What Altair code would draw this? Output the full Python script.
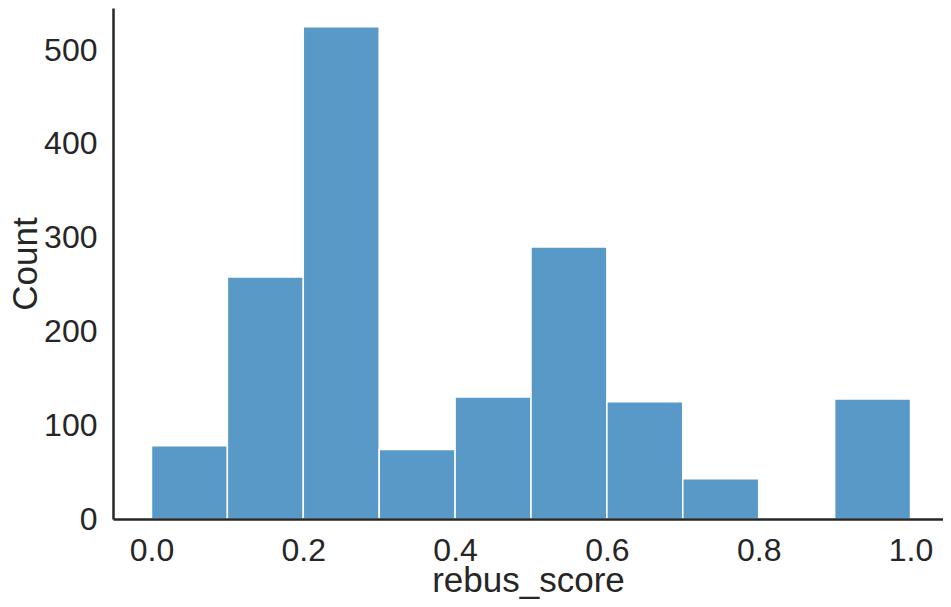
import altair as alt
import pandas as pd

bin_start = [0.0, 0.1, 0.2, 0.3, 0.4, 0.5, 0.6, 0.7, 0.8, 0.9]
bin_end = [0.1, 0.2, 0.3, 0.4, 0.5, 0.6, 0.7, 0.8, 0.9, 1.0]
counts = [78, 258, 525, 74, 130, 290, 125, 43, 0, 128]
x_ticks = [0.0, 0.2, 0.4, 0.6, 0.8, 1.0]
y_ticks = [0, 100, 200, 300, 400, 500]

df = pd.DataFrame({"start": bin_start, "end": bin_end, "count": counts})

FONT = "Liberation Sans"
DARK = "#262626"

chart = (
    alt.Chart(df)
    .mark_rect(color="#5899c8", stroke="white", strokeWidth=1.5)
    .encode(
        x=alt.X(
            "start:Q",
            scale=alt.Scale(domain=[-0.0507, 1.0428], nice=False, zero=False),
            axis=alt.Axis(
                title="rebus_score",
                values=x_ticks,
                format=".1f",
                ticks=False,
                grid=False,
                labelPadding=16,
                titleBaseline="alphabetic",
                titleY=72,
                labelFontSize=32,
                titleFontSize=35,
                domainWidth=2.5,
                zindex=1,
            ),
        ),
        x2="end:Q",
        y=alt.Y(
            "count:Q",
            scale=alt.Scale(domain=[0, 545], nice=False),
            axis=alt.Axis(
                title="Count",
                values=y_ticks,
                ticks=False,
                grid=False,
                labelPadding=16,
                titlePadding=0,
                labelFontSize=32,
                titleFontSize=35,
                domainWidth=2.5,
                zindex=1,
            ),
        ),
        y2=alt.datum(0),
    )
    .properties(
        width=830,
        height=511,
        autosize=alt.AutoSizeParams(type="none"),
        padding={"left": 105, "top": 0, "right": 0, "bottom": 80},
    )
    .configure_view(stroke=None)
    .configure_axis(
        labelFont=FONT,
        titleFont=FONT,
        labelColor=DARK,
        titleColor=DARK,
        domainColor=DARK,
        titleFontWeight="normal",
        labelFlush=False,
    )
)

chart.save("out.html", embed_options={"renderer": "svg", "actions": False})
